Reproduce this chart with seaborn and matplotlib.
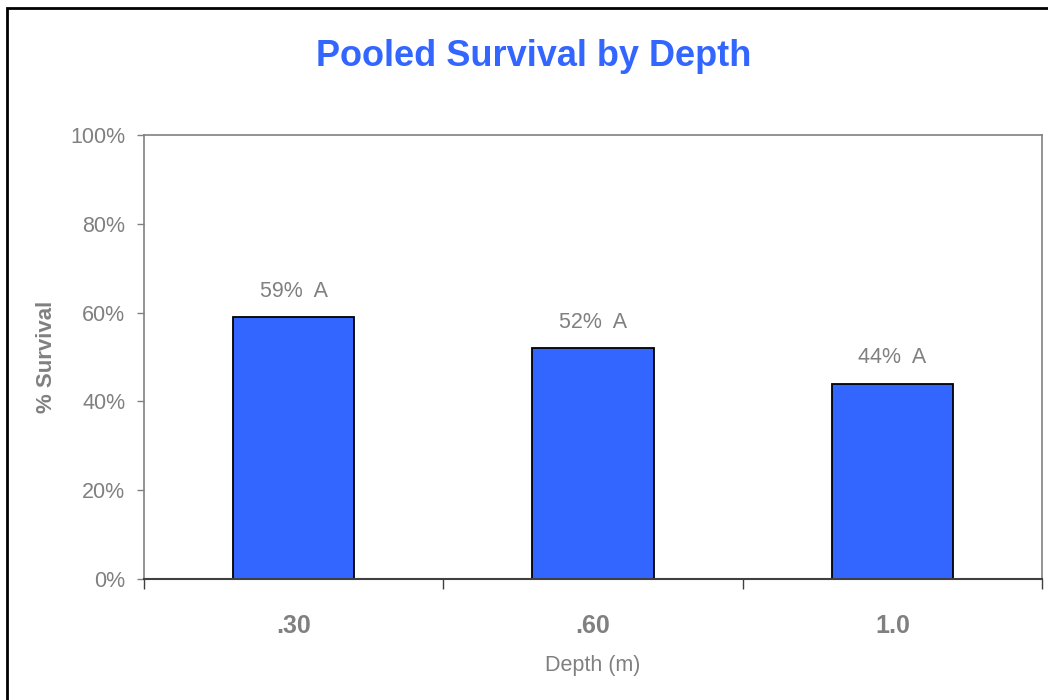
import matplotlib
matplotlib.use("Agg")
import matplotlib.pyplot as plt
from matplotlib.patches import Rectangle
from matplotlib.ticker import PercentFormatter, FixedLocator
import seaborn as sns
import pandas as pd

# Pooled survival data by planting depth
depths = [".30", ".60", "1.0"]
survival = [0.59, 0.52, 0.44]
groups = ["A", "A", "A"]
y_ticks = [0.0, 0.2, 0.4, 0.6, 0.8, 1.0]

sns.set_style("white")
plt.rcParams["font.family"] = ["Liberation Sans", "DejaVu Sans"]

GRAY = "#808080"
BLUE = "#3366FF"

df = pd.DataFrame({"Depth": depths, "Survival": survival})

fig = plt.figure(figsize=(10.48, 7.0), dpi=100)
fig.patch.set_facecolor("white")
ax = fig.add_axes([144 / 1048, 1 - 579 / 700, 898 / 1048, 444 / 700])

sns.barplot(data=df, x="Depth", y="Survival", color=BLUE, saturation=1,
            width=0.405, edgecolor="black", linewidth=1.3, ax=ax)

ax.set_xlim(-0.5, len(depths) - 0.5)
ax.set_ylim(0, 1.0)
ax.set_yticks(y_ticks)
ax.yaxis.set_major_formatter(PercentFormatter(1.0, decimals=0))

# Spines
for side in ["left", "top", "right"]:
    ax.spines[side].set_color(GRAY)
    ax.spines[side].set_linewidth(1.2)
ax.spines["bottom"].set_color("#404040")
ax.spines["bottom"].set_linewidth(1.5)

# Ticks
ax.tick_params(axis="y", which="major", direction="out", length=5, width=1,
               color=GRAY, labelcolor=GRAY, labelsize=15.5, pad=8.5, left=True)
ax.tick_params(axis="x", which="major", length=0, pad=25, labelsize=18,
               labelcolor=GRAY)
for lbl in ax.get_xticklabels():
    lbl.set_fontweight("bold")
ax.xaxis.set_minor_locator(FixedLocator([i - 0.5 for i in range(len(depths) + 1)]))
ax.tick_params(axis="x", which="minor", direction="out", length=7, width=1,
               color="#404040", bottom=True)

# Axis labels
ax.set_xlabel("Depth (m)", fontsize=15.5, color=GRAY)
ax.xaxis.set_label_coords(0.5, (579 - 666) / 444)
ax.xaxis.label.set_va("center")
ax.set_ylabel("% Survival", fontsize=16, color=GRAY, fontweight="bold")
ax.yaxis.set_label_coords((47 - 144) / 898, 0.5)
ax.yaxis.label.set_va("center")

# Value labels above bars
for i, (v, g) in enumerate(zip(survival, groups)):
    ax.annotate(f"{v * 100:.0f}%  {g}", xy=(i, v), xytext=(0, 11),
                textcoords="offset points", ha="center", va="bottom",
                fontsize=15.5, color=GRAY)

# Title
fig.text(534 / 1048, 1 - 56 / 700, "Pooled Survival by Depth", ha="center",
         va="center", fontsize=26, fontweight="bold", color=BLUE)

# Chart area frame
fig.patches.append(Rectangle((7 / 1048, -0.1), 1.2, 1.1 - 8 / 700,
                             transform=fig.transFigure, fill=False,
                             edgecolor="black", linewidth=2, zorder=10))

fig.savefig("out.png", dpi=100, facecolor="white")
